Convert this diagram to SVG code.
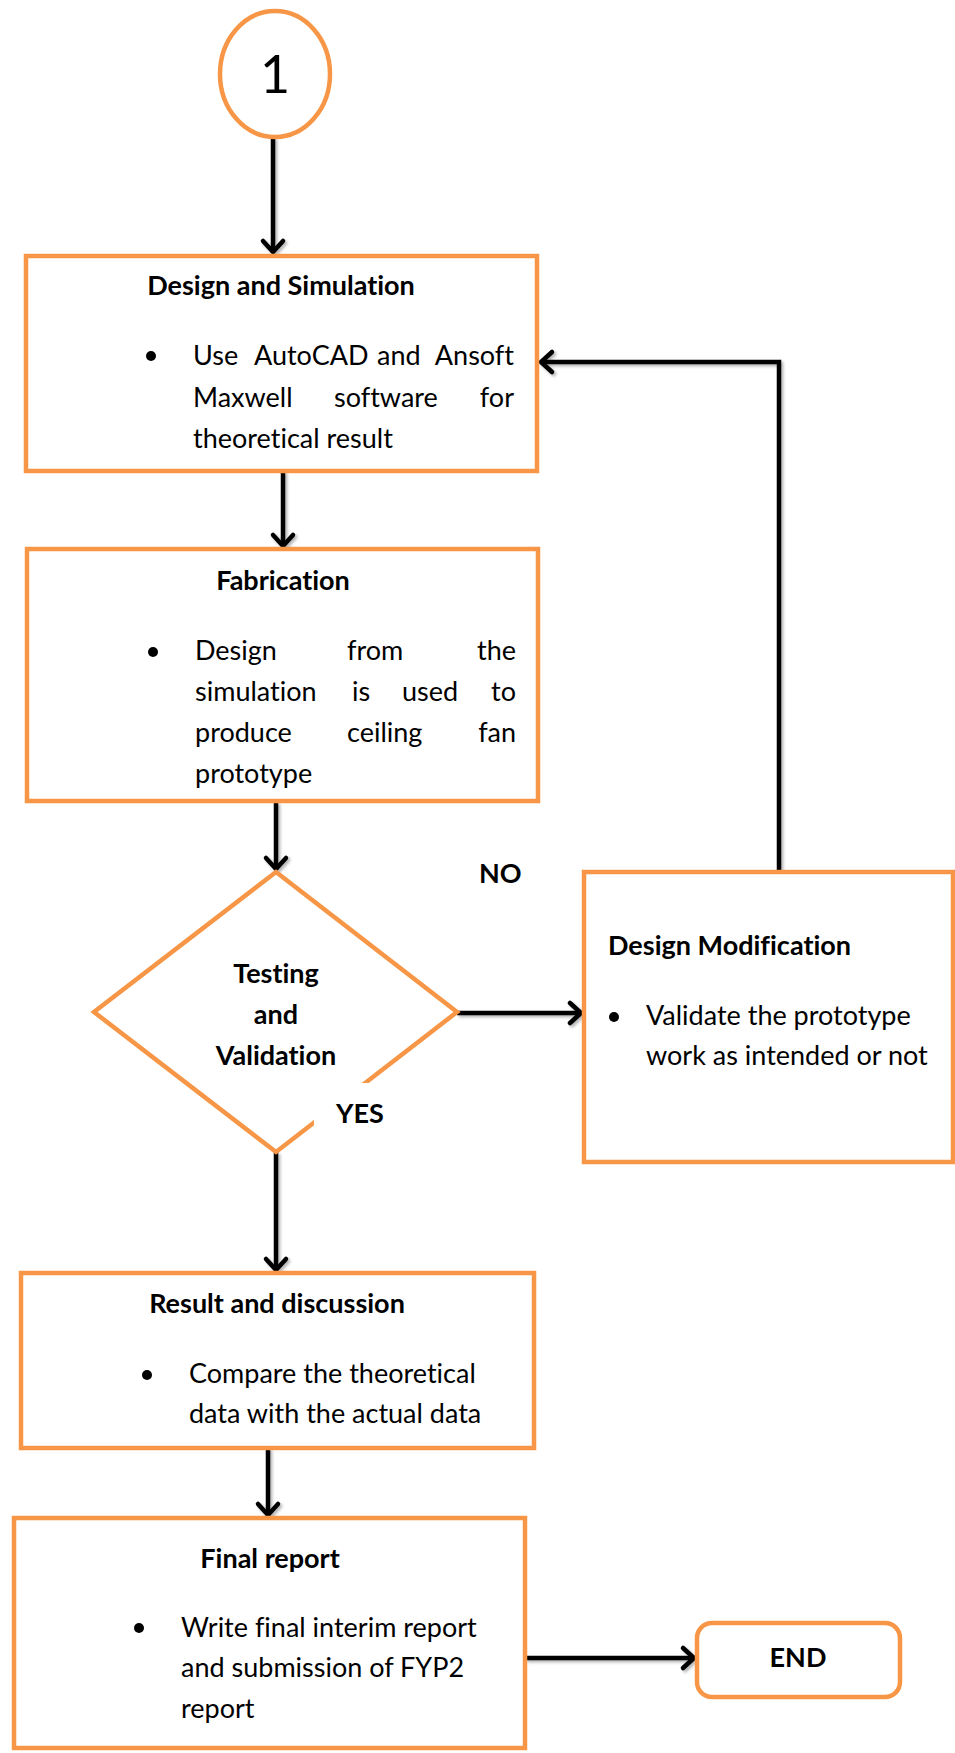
<svg xmlns="http://www.w3.org/2000/svg" width="955" height="1753" viewBox="0 0 955 1753">
<defs>
<style>
.node{fill:#fff;stroke:#F79646;stroke-width:4.5}
.conn{fill:none;stroke:#000;stroke-width:4.5}
.t{font-family:Lato,"Liberation Sans",sans-serif;font-size:27px;fill:#000;font-variant-ligatures:none}
.b{font-family:Lato,"Liberation Sans",sans-serif;font-size:27px;font-weight:bold;fill:#000;font-variant-ligatures:none}
.mid{text-anchor:middle}
.end{text-anchor:end}
</style>
<marker id="arr" markerUnits="userSpaceOnUse" viewBox="-16 -14 20 28" refX="0" refY="0" markerWidth="20" markerHeight="28" orient="auto">
<path d="M-11,-10 L0,0 L-11,10" fill="none" stroke="#000" stroke-width="4.5" stroke-linecap="round" stroke-linejoin="miter"/>
</marker>
<filter id="sh" x="-20%" y="-20%" width="140%" height="140%">
<feDropShadow dx="2" dy="2" stdDeviation="1.5" flood-color="#000" flood-opacity="0.3"/>
</filter>
</defs>
<rect width="955" height="1753" fill="#fff"/>

<g id="connectors" filter="url(#sh)">
<path class="conn" d="M273,137 V252" marker-end="url(#arr)"/>
<path class="conn" d="M283,471 V546" marker-end="url(#arr)"/>
<path class="conn" d="M276,802 V869" marker-end="url(#arr)"/>
<path class="conn" d="M457,1013 H581" marker-end="url(#arr)"/>
<path class="conn" d="M779,872 V362 H541" marker-end="url(#arr)"/>
<path class="conn" d="M276,1152 V1270" marker-end="url(#arr)"/>
<path class="conn" d="M268,1448 V1515" marker-end="url(#arr)"/>
<path class="conn" d="M525,1658 H694" marker-end="url(#arr)"/>
</g>

<g id="start">
<ellipse class="node" cx="275" cy="74" rx="55" ry="63"/>
<text class="t mid" x="275" y="93" style="font-size:52px;font-weight:normal">1</text>
</g>

<g id="design-simulation">
<rect class="node" x="26" y="256" width="511" height="215"/>
<text class="b mid" x="281" y="295">Design and Simulation</text>
<circle cx="151" cy="356" r="5"/>
<text class="t" y="365"><tspan x="193">Use</tspan><tspan x="254">AutoCAD</tspan><tspan x="377">and</tspan><tspan x="514" text-anchor="end">Ansoft</tspan></text>
<text class="t" y="407"><tspan x="193">Maxwell</tspan><tspan x="334">software</tspan><tspan x="514" text-anchor="end">for</tspan></text>
<text class="t" x="193" y="448">theoretical result</text>
</g>

<g id="fabrication">
<rect class="node" x="27" y="549" width="511" height="252"/>
<text class="b mid" x="283" y="590">Fabrication</text>
<circle cx="153" cy="652" r="5"/>
<text class="t" y="660"><tspan x="195">Design</tspan><tspan x="347">from</tspan><tspan x="516" text-anchor="end">the</tspan></text>
<text class="t" y="701"><tspan x="195">simulation</tspan><tspan x="352">is</tspan><tspan x="402">used</tspan><tspan x="516" text-anchor="end">to</tspan></text>
<text class="t" y="742"><tspan x="195">produce</tspan><tspan x="347">ceiling</tspan><tspan x="516" text-anchor="end">fan</tspan></text>
<text class="t" x="195" y="783">prototype</text>
</g>

<g id="testing-validation">
<polygon class="node" points="276,872 457,1012 276,1152 94,1012" stroke-linejoin="miter"/>
<text class="b mid" x="276" y="983">Testing</text>
<text class="b mid" x="276" y="1024">and</text>
<text class="b mid" x="276" y="1065">Validation</text>
</g>

<g id="label-no">
<text class="b" x="479" y="883">NO</text>
</g>

<g id="label-yes">
<rect x="314" y="1083" width="70" height="45" fill="#fff"/>
<text class="b" x="336" y="1123">YES</text>
</g>

<g id="design-modification">
<rect class="node" x="584" y="872" width="369" height="290"/>
<text class="b" x="608" y="955">Design Modification</text>
<circle cx="614" cy="1017" r="5"/>
<text class="t" x="646" y="1025">Validate the prototype</text>
<text class="t" x="646" y="1065">work as intended or not</text>
</g>

<g id="result-discussion">
<rect class="node" x="21" y="1273" width="513" height="175"/>
<text class="b mid" x="277" y="1313">Result and discussion</text>
<circle cx="147" cy="1375" r="5"/>
<text class="t" x="189" y="1383">Compare the theoretical</text>
<text class="t" x="189" y="1423">data with the actual data</text>
</g>

<g id="final-report">
<rect class="node" x="14" y="1518" width="511" height="230"/>
<text class="b mid" x="270" y="1568">Final report</text>
<circle cx="139" cy="1628" r="5"/>
<text class="t" x="181" y="1637">Write final interim report</text>
<text class="t" x="181" y="1677">and submission of FYP2</text>
<text class="t" x="181" y="1718">report</text>
</g>

<g id="end">
<rect class="node" x="697" y="1623" width="203" height="74" rx="15"/>
<text class="b mid" x="798" y="1667">END</text>
</g>
</svg>
